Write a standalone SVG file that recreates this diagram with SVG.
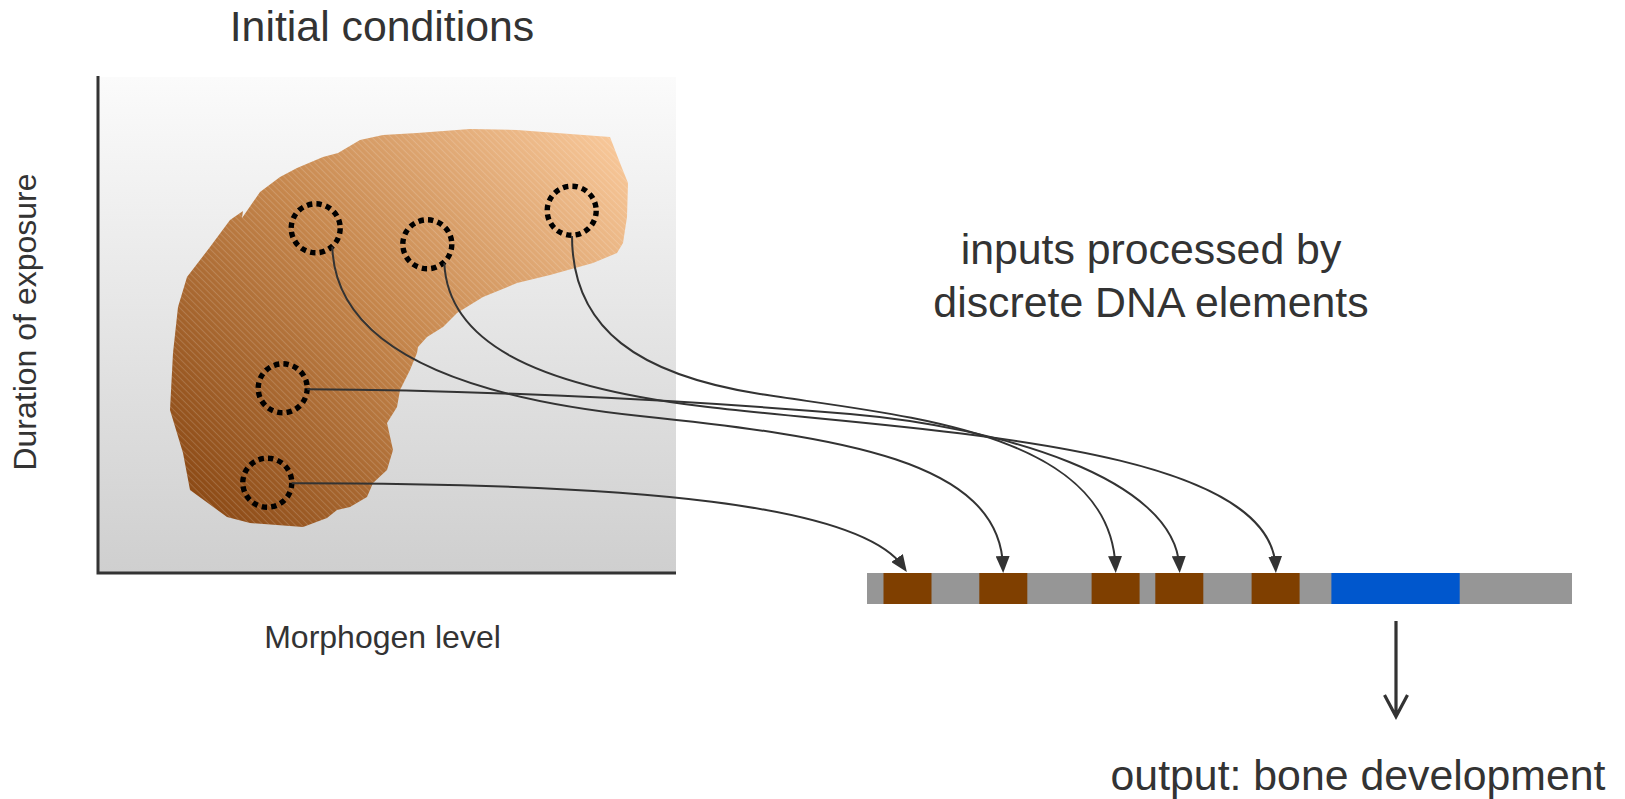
<svg xmlns="http://www.w3.org/2000/svg" width="1625" height="799" viewBox="0 0 1625 799">
  <style>
    .lbl { font-family: "Liberation Sans", Arial, sans-serif; fill: #333333; }
    .big { font-size: 42.8px; }
    .small { font-size: 32px; }
    .axis { stroke: #333333; stroke-width: 3; fill: none; }
    .spot { fill: none; stroke: #000000; stroke-width: 5.4; stroke-dasharray: 5.4 4.22; }
    .link { fill: none; stroke: #333333; stroke-width: 2; }
    .elem { fill: #7f3f00; }
  </style>
  <defs>
    <linearGradient id="plotBg" x1="0" y1="0" x2="0" y2="1">
      <stop offset="0" stop-color="#fbfbfb"/>
      <stop offset="1" stop-color="#cfcfcf"/>
    </linearGradient>
    <linearGradient id="blobFill" gradientUnits="userSpaceOnUse" x1="185" y1="520" x2="625" y2="140">
      <stop offset="0" stop-color="#874511"/>
      <stop offset="0.5" stop-color="#c6874d"/>
      <stop offset="1" stop-color="#f9c99b"/>
    </linearGradient>
    <pattern id="hatch" width="4.5" height="4.5" patternUnits="userSpaceOnUse" patternTransform="rotate(45)">
      <rect x="0" y="0" width="4.5" height="1" fill="#ffffff" fill-opacity="0.16"/>
    </pattern>
    <marker id="tri" markerUnits="userSpaceOnUse" viewBox="0 0 17 14" markerWidth="17" markerHeight="14" refX="11" refY="7" orient="auto">
      <path d="M0,0 L17,7 L0,14 Z" fill="#333333"/>
    </marker>
  </defs>

  <rect width="1625" height="799" fill="#ffffff"/>

  <!-- morphogen plot -->
  <g id="plot">
    <rect x="98" y="77" width="578" height="495" fill="url(#plotBg)"/>
    <path class="axis" d="M98,76 L98,573 L676,573"/>
  </g>

  <g id="region">
    <path id="blob" d="M230,220 L243,211 L242,218 L260,192 L280,177 L297,168 L323,157 L338,153 L360,140 L383,135 L417,133 L470,129 L517,130 L610,137 L620,163 L628,183 L627,217 L623,243 L617,253 L593,263 L550,275 L517,283 L483,297 L457,313 L443,327 L427,337 L418,347 L417,353 L410,370 L400,390 L397,407 L387,423 L393,450 L387,470 L373,483 L367,497 L350,507 L337,510 L327,518 L303,527 L250,523 L227,517 L190,490 L183,453 L170,410 L173,353 L178,307 L187,277 L210,247 Z" fill="url(#blobFill)"/>
    <path d="M230,220 L243,211 L242,218 L260,192 L280,177 L297,168 L323,157 L338,153 L360,140 L383,135 L417,133 L470,129 L517,130 L610,137 L620,163 L628,183 L627,217 L623,243 L617,253 L593,263 L550,275 L517,283 L483,297 L457,313 L443,327 L427,337 L418,347 L417,353 L410,370 L400,390 L397,407 L387,423 L393,450 L387,470 L373,483 L367,497 L350,507 L337,510 L327,518 L303,527 L250,523 L227,517 L190,490 L183,453 L170,410 L173,353 L178,307 L187,277 L210,247 Z" fill="url(#hatch)"/>
  </g>

  <!-- sampled points -->
  <g id="spot1"><circle class="spot" cx="315.7" cy="228.3" r="24.5"/></g>
  <g id="spot2"><circle class="spot" cx="427.3" cy="244.3" r="24.5"/></g>
  <g id="spot3"><circle class="spot" cx="571.7" cy="210.7" r="24.5"/></g>
  <g id="spot4"><circle class="spot" cx="282.7" cy="388.3" r="24.5"/></g>
  <g id="spot5"><circle class="spot" cx="267.3" cy="482.7" r="24.5"/></g>

  <!-- DNA strand with regulatory elements and gene -->
  <g id="dna">
    <rect x="867" y="573" width="705" height="31" fill="#969696"/>
    <rect class="elem" x="883.5" y="573" width="48" height="31"/>
    <rect class="elem" x="979.3" y="573" width="48" height="31"/>
    <rect class="elem" x="1091.6" y="573" width="48" height="31"/>
    <rect class="elem" x="1155.3" y="573" width="48" height="31"/>
    <rect class="elem" x="1251.6" y="573" width="48" height="31"/>
    <rect x="1331.4" y="573" width="128.3" height="31" fill="#0057cd"/>
  </g>

  <g id="connectors">
    <path class="link" marker-end="url(#tri)" d="M291.7,483.3 C640,483 860,505 903.4,567"/>
    <path class="link" marker-end="url(#tri)" d="M332.3,246.7 C335,340 440,395 640,416 C840,437 1000,460 1003,567"/>
    <path class="link" marker-end="url(#tri)" d="M572,236 C572,330 640,375 760,394 C900,416 1110,430 1115.5,567"/>
    <path class="link" marker-end="url(#tri)" d="M307.3,389.3 C450,390 650,397 850,414 C1000,427 1175,478 1179.4,567"/>
    <path class="link" marker-end="url(#tri)" d="M444.3,263.3 C448,340 530,385 700,406 C900,431 1270,440 1275.6,567"/>
    <path fill="none" stroke="#333333" stroke-width="3.2" d="M1396,621 L1396,715 M1384.5,695 L1396,716.5 L1407.5,695"/>
  </g>

  <g id="labels">
    <text class="lbl big" x="382" y="40.5" text-anchor="middle">Initial conditions</text>
    <text class="lbl small" transform="translate(36,322) rotate(-90)" text-anchor="middle">Duration of exposure</text>
    <text class="lbl small" x="382.5" y="647.5" text-anchor="middle">Morphogen level</text>
    <text class="lbl big" x="1151" y="263.5" text-anchor="middle">inputs processed by</text>
    <text class="lbl big" x="1151" y="316.5" text-anchor="middle">discrete DNA elements</text>
    <text class="lbl big" x="1358" y="789.5" text-anchor="middle">output: bone development</text>
  </g>
</svg>
